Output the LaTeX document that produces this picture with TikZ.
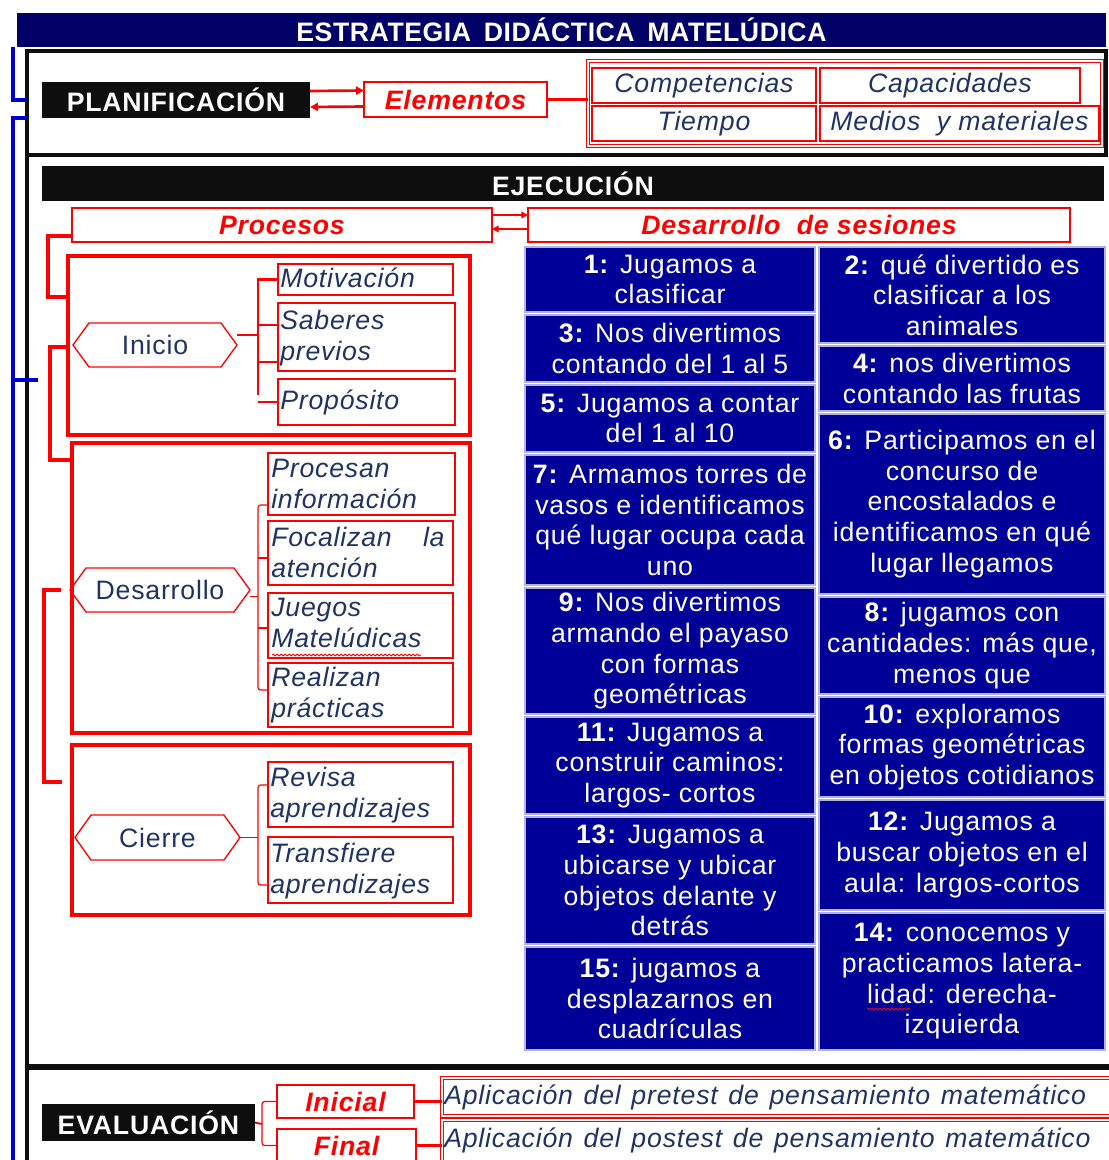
\documentclass[tikz,border=0pt]{standalone}
\usepackage{fontspec}
\setmainfont[LetterSpace=3]{Liberation Sans}
\newfontfamily\titlefont[LetterSpace=2,WordSpace=1.6]{Liberation Sans}
\newfontfamily\widesans[LetterSpace=3,WordSpace=1.3]{Liberation Sans}
\usetikzlibrary{arrows.meta,calc,decorations.pathmorphing}

\definecolor{bandnavy}{RGB}{0,0,102}
\definecolor{sessblue}{RGB}{0,0,153}
\definecolor{inkblue}{RGB}{31,52,100}
\definecolor{rojo}{RGB}{255,0,0}
\definecolor{linkblue}{RGB}{0,0,210}
\definecolor{nearblack}{RGB}{14,14,14}

\newcommand\bigfont{\fontsize{20}{23}\selectfont}
% hexagonal outline around a stage label
\newcommand\hexframe[1]{\draw[hexline] (#1.west) -- ($(#1.north west)+(16,0)$) -- ($(#1.north east)+(-16,0)$) -- (#1.east) -- ($(#1.south east)+(-16,0)$) -- ($(#1.south west)+(16,0)$) -- cycle;}

\begin{document}
\begin{tikzpicture}[x=0.75pt,y=-0.75pt,
  % a box given by its left, top, right and bottom edges
  spot/.style n args={4}{minimum width={(#3-#1)*0.75pt}, minimum height={(#4-#2)*0.75pt}, at={({(#1+#3)/2},{(#2+#4)/2})}},
  area/.style={inner sep=0pt, outer sep=0pt, anchor=center},
  band/.style={area, fill=nearblack, text=white, font=\bigfont\bfseries},
  redlabel/.style={area, draw=rojo, line width=1.1pt, fill=white, text=rojo, font=\bigfont\bfseries\itshape},
  element/.style={area, draw=rojo, line width=1.1pt, text=inkblue, font=\bigfont\itshape},
  item/.style={area, draw=rojo, line width=1.1pt},
  itemtext/.style={anchor=north west, inner sep=0pt, text=inkblue, font=\bigfont\itshape, align=left},
  dblred/.style={area, draw=rojo, double=white, double distance=1.3pt, line width=0.7pt},
  phase/.style={area, draw=rojo, line width=2.4pt},
  stage/.style={area, text=inkblue, font=\bigfont},
  hexline/.style={draw=rojo, line width=1pt},
  session/.style={area, fill=sessblue, draw=white!70!sessblue, line width=0.8pt, text=white, align=center, font=\fontsize{20}{23}\selectfont},
  thickred/.style={draw=rojo, line width=2.4pt},
  midred/.style={draw=rojo, line width=1.8pt},
  thinred/.style={draw=rojo, line width=0.9pt, rounded corners=2pt},
  bluelink/.style={draw=linkblue, line width=2.6pt},
  blackline/.style={draw=nearblack, line width=2.6pt},
  twoway/.style={draw=rojo, line width=2pt, -{Triangle[length=6pt,width=6pt]}},
  squiggle/.style={draw=rojo, line width=0.6pt, decorate, decoration={snake, amplitude=0.7pt, segment length=3pt}},
]
\useasboundingbox (0,0) rectangle (1108,1160);
\fill[white] (0,0) rectangle (1108,1160);

% ---------- title and outer frames ----------
\node[area, fill=bandnavy, text=white, font=\titlefont\fontsize{20}{23}\selectfont\bfseries, spot={17}{13}{1106}{47}] (title) {ESTRATEGIA DIDÁCTICA MATELÚDICA};
\node[area, draw=nearblack, line width=2.6pt, spot={27}{51}{1106}{155}] (planframe) {};
\coordinate (leftend) at (27,1162);
\draw[blackline] (planframe.south west) -- (leftend);
\coordinate (sepL) at (27,1067);
\coordinate (sepR) at (1110,1067);
\draw[draw=nearblack, line width=3.8pt] (sepL) -- (sepR);

% blue brackets on the far left
\coordinate (bl1) at (13,100);
\coordinate (bl2) at (13,118);
\coordinate (bl3) at (13,1162);
\coordinate (blt) at (38,380);
\draw[bluelink] (title.south west -| bl1) -- (bl1) -- (planframe.west |- bl1);
\draw[bluelink] (planframe.west |- bl2) -- (bl2) -- (bl3);
\draw[bluelink] (bl3 |- blt) -- (blt);

% ---------- planificación ----------
\node[band, spot={42}{82}{310}{118}] (plan) {PLANIFICACIÓN};
\node[redlabel, spot={364}{82}{547}{117}] (elem) {Elementos};
\draw[twoway] ([yshift=6.75pt]plan.east) -- ([yshift=6.75pt]elem.west);
\draw[twoway] ([yshift=-5.25pt]elem.west) -- ([yshift=-5.25pt]plan.east);
\node[dblred, spot={588}{61}{1102}{146}] (elemframe) {};
\draw[midred] (elem.east) -- (elem.east -| elemframe.west);
\node[element, spot={592}{68}{816}{103}] (comp) {Competencias};
\node[element, spot={820}{68}{1080}{103}] (capa) {Capacidades};
\node[element, spot={592}{106}{816}{141}] (tiem) {Tiempo};
\node[element, spot={820}{106}{1099}{141}] (medi) {Medios\ \ y materiales};

% ---------- ejecución ----------
\node[band, spot={42}{166}{1104}{201}] (ejec) {EJECUCIÓN};
\node[redlabel, spot={72}{208}{492}{242}] (proc) {Procesos};
\node[redlabel, spot={528}{208}{1070}{242}] (dses) {Desarrollo\ \ de sesiones};
\draw[twoway, line width=1.8pt, -{Triangle[length=5pt,width=5pt]}] ([yshift=7.5pt]proc.east) -- ([yshift=7.5pt]dses.west);
\draw[twoway, line width=1.8pt, -{Triangle[length=5pt,width=5pt]}] ([yshift=-3pt]dses.west) -- ([yshift=-3pt]proc.east);

% phase frames
\node[phase, spot={68}{256}{470}{435}] (finicio) {};
\node[phase, spot={72}{443}{470}{733}] (fdes) {};
\node[phase, spot={72}{745}{470}{915}] (fcie) {};

% brackets joining the phases
\coordinate (k1) at (48,236);
\coordinate (k2) at (48,297);
\draw[thickred] (proc.west |- k1) -- (k1) -- (k2) -- (finicio.west |- k2);
\coordinate (k3) at (50,347);
\coordinate (k4) at (50,460);
\draw[thickred] (finicio.west |- k3) -- (k3) -- (k4) -- (fdes.west |- k4);
\coordinate (k5) at (61,590);
\coordinate (k6) at (44,590);
\coordinate (k7) at (44,782);
\coordinate (k8) at (62,782);
\draw[thickred] (k5) -- (k6) -- (k7) -- (k8);

% Inicio
\node[stage, spot={73}{323}{237}{367}] (hini) {Inicio};
\hexframe{hini}
\node[item, spot={278}{264}{453}{295}] (mot) {};
\node[item, spot={278}{303}{455}{371}] (sab) {};
\node[item, spot={278}{379}{455}{425}] (prop) {};
\node[itemtext] (motT) at ($(mot.north west)+(2,4)$) {Motivación};
\node[itemtext] (sabT) at ($(sab.north west)+(2,7)$) {Saberes\\previos};
\node[itemtext] (propT) at ($(prop.north west)+(2,11)$) {Propósito};
\coordinate (ib) at (258,395);
\draw[midred] (mot.west) -| (ib);
\draw[midred] ([yshift=7.5pt]hini.east) -- ([yshift=7.5pt]hini.east -| ib);
\draw[midred] (ib |- 0,325) -- (sab.west |- 0,325);
\draw[midred] (ib |- 0,362) -- (sab.west |- 0,362);
\draw[midred] (ib |- 0,402) -- (prop.west |- 0,402);

% Desarrollo
\node[stage, spot={70}{568}{250}{612}] (hdes) {Desarrollo};
\hexframe{hdes}
\node[item, spot={268}{453}{455}{515}] (pi) {};
\node[item, spot={268}{521}{453}{585}] (fo) {};
\node[item, spot={268}{593}{453}{658}] (ju) {};
\node[item, spot={268}{663}{453}{727}] (re) {};
\node[itemtext] (piT) at ($(pi.north west)+(3,6)$) {Procesan\\información};
\node[itemtext] (foT) at ($(fo.north west)+(3,6)$) {\makebox[130pt][s]{Focalizan la}\\atención};
\node[itemtext] (juT) at ($(ju.north west)+(3,5)$) {Juegos\\Matelúdicas};
\node[itemtext] (reT) at ($(re.north west)+(3,4)$) {Realizan\\prácticas};
\coordinate (db) at (258,598);
\draw[thinred] (pi.west |- 0,505) -| (db) |- (re.west |- 0,690);
\draw[thinred] ([yshift=-5pt]hdes.east) -- ([yshift=-5pt]hdes.east -| db);
\draw[midred] (db |- 0,558) -- (fo.west |- 0,558);
\draw[midred] (db |- 0,628) -- (ju.west |- 0,628);
\coordinate (wv1) at (272,655);
\coordinate (wv2) at (421,655);
\draw[squiggle] (wv1) -- (wv2);

% Cierre
\node[stage, spot={75}{815}{240}{860}] (hcie) {Cierre};
\hexframe{hcie}
\node[item, spot={268}{762}{453}{827}] (rev) {};
\node[item, spot={268}{837}{453}{903}] (tra) {};
\node[itemtext] (revT) at ($(rev.north west)+(2,5)$) {Revisa\\aprendizajes};
\node[itemtext] (traT) at ($(tra.north west)+(2,6)$) {Transfiere\\aprendizajes};
\coordinate (cb) at (258,837);
\draw[thinred] (rev.west |- 0,785) -| (cb) |- (tra.west |- 0,885);
\draw[thinred] (hcie.east) -- (hcie.east -| cb);

% sessions
\node[session, spot={525}{247}{815}{312}] (s1) {\textbf{1:} Jugamos a\\clasificar};
\node[session, spot={819}{247}{1105}{343}] (s2) {\textbf{2:} qué divertido es\\clasificar a los\\animales};
\node[session, spot={525}{315}{815}{382}] (s3) {\textbf{3:} Nos divertimos\\contando del 1 al 5};
\node[session, spot={819}{346}{1105}{411}] (s4) {\textbf{4:} nos divertimos\\contando las frutas};
\node[session, spot={525}{385}{815}{452}] (s5) {\textbf{5:} Jugamos a contar\\del 1 al 10};
\node[session, spot={819}{414}{1105}{594}] (s6) {\textbf{6:} Participamos en el\\concurso de\\encostalados e\\identificamos en qué\\lugar llegamos};
\node[session, spot={525}{455}{815}{585}] (s7) {\textbf{7:} Armamos torres de\\vasos e identificamos\\qué lugar ocupa cada\\uno};
\node[session, spot={819}{597}{1105}{694}] (s8) {\textbf{8:} jugamos con\\cantidades: más que,\\menos que};
\node[session, spot={525}{588}{815}{714}] (s9) {\textbf{9:} Nos divertimos\\armando el payaso\\con formas\\geométricas};
\node[session, spot={819}{697}{1105}{797}] (s10) {\textbf{10:} exploramos\\formas geométricas\\en objetos cotidianos};
\node[session, spot={525}{717}{815}{814}] (s11) {\textbf{11:} Jugamos a\\construir caminos:\\largos- cortos};
\node[session, spot={819}{800}{1105}{910}] (s12) {\textbf{12:} Jugamos a\\buscar objetos en el\\aula: largos-cortos};
\node[session, spot={525}{817}{815}{944}] (s13) {\textbf{13:} Jugamos a\\ubicarse y ubicar\\objetos delante y\\detrás};
\node[session, spot={819}{913}{1105}{1050}] (s14) {\textbf{14:} conocemos y\\practicamos latera-\\lidad: derecha-\\izquierda};
\node[session, spot={525}{947}{815}{1050}] (s15) {\textbf{15:} jugamos a\\desplazarnos en\\cuadrículas};
\coordinate (wv3) at (867,1009);
\coordinate (wv4) at (910,1009);
\draw[squiggle] (wv3) -- (wv4);

% ---------- evaluación ----------
\node[band, spot={42}{1104}{255}{1141}] (eval) {EVALUACIÓN};
\node[redlabel, spot={277}{1085}{414}{1118}] (ini) {Inicial};
\node[redlabel, spot={277}{1129}{416}{1162}] (fin) {Final};
\coordinate (evb) at (262,1124);
\draw[thinred] (ini.west) -| (evb) |- (fin.west);
\draw[thinred, line width=1.4pt] (eval.east) -- (evb);
\node[dblred, spot={442}{1078}{1112}{1116}] (apl1) {};
\node[dblred, spot={442}{1120}{1112}{1162}] (apl2) {};
\draw[thickred] (ini.east) -- (ini.east -| apl1.west);
\draw[thickred] (fin.east) -- (fin.east -| apl2.west);
\node[anchor=west, inner sep=0pt, text=inkblue, font=\widesans\fontsize{20}{23}\selectfont\itshape] (apl1T) at ($(apl1.west)+(2,0)$) {Aplicación del pretest de pensamiento matemático};
\node[anchor=west, inner sep=0pt, text=inkblue, font=\widesans\fontsize{20}{23}\selectfont\itshape] (apl2T) at ($(apl2.west)+(2,-1)$) {Aplicación del postest de pensamiento matemático};
\end{tikzpicture}
\end{document}
